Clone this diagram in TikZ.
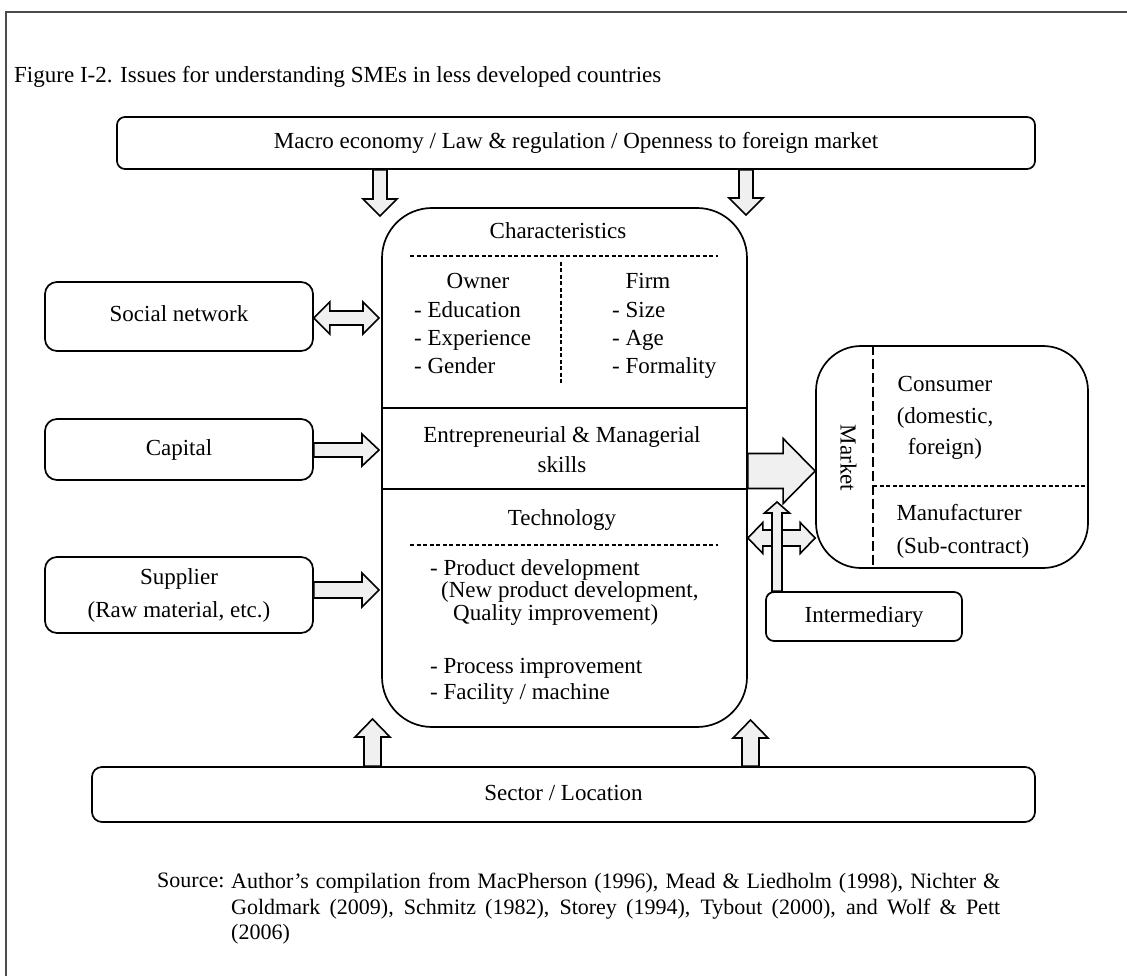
\documentclass[tikz,border=0pt]{standalone}
\usepackage{fontspec}
\setmainfont{Liberation Serif}
\usetikzlibrary{calc}
\definecolor{arrowfill}{gray}{0.94}

\tikzset{
  lbl/.style={inner sep=0pt, text height=16pt, text depth=5pt},
  panel/.style={draw, line width=1.7pt, fill=white, inner sep=0pt, rounded corners=#1},
  sep/.style={dash pattern=on 4pt off 2.5pt, line width=1.4pt},
  fat/.style n args={3}{draw, line width=1.6pt, fill=arrowfill, to path={
      ($(\tikztotarget)!#3!(\tikztostart)$) coordinate (fatB)
      ($(\tikztostart)!#1!90:(\tikztotarget)$) -- ($(fatB)!#1!90:(\tikztotarget)$)
      -- ($(fatB)!#2!90:(\tikztotarget)$) -- (\tikztotarget)
      -- ($(fatB)!#2!-90:(\tikztotarget)$) -- ($(fatB)!#1!-90:(\tikztotarget)$)
      -- ($(\tikztostart)!#1!-90:(\tikztotarget)$) -- cycle}},
  fatboth/.style n args={3}{draw, line width=1.6pt, fill=arrowfill, to path={
      ($(\tikztostart)!#3!(\tikztotarget)$) coordinate (fatA)
      ($(\tikztotarget)!#3!(\tikztostart)$) coordinate (fatB)
      (\tikztostart) -- ($(fatA)!#2!90:(\tikztotarget)$) -- ($(fatA)!#1!90:(\tikztotarget)$)
      -- ($(fatB)!#1!90:(\tikztotarget)$) -- ($(fatB)!#2!90:(\tikztotarget)$)
      -- (\tikztotarget) -- ($(fatB)!#2!-90:(\tikztotarget)$) -- ($(fatB)!#1!-90:(\tikztotarget)$)
      -- ($(fatA)!#1!-90:(\tikztotarget)$) -- ($(fatA)!#2!-90:(\tikztotarget)$) -- cycle}}
}

\begin{document}
\begin{tikzpicture}[x=1pt, y=-1pt, font=\fontsize{23}{28}\selectfont]
  \useasboundingbox (0,0) rectangle (1127,976);
  % frame and title
  \draw[line width=1.5pt, black!70] (6,976) -- (6,12) -- (1127,12);
  \node[lbl, anchor=west] (title) at (14,77) {Figure I-2. Issues for understanding SMEs in less developed countries};

  % outer boxes
  \node[panel=8pt, lbl, minimum width=918pt, minimum height=52pt] (macro) at (576,143) {Macro economy / Law \& regulation / Openness to foreign market};
  \node[panel=10pt, lbl, minimum width=943pt, minimum height=55pt] (sector) at (563.5,794.5) {Sector / Location};
  \node[panel=12pt, lbl, minimum width=268pt, minimum height=69pt] (social) at (179,316.5) {Social network};
  \node[panel=12pt, lbl, minimum width=268pt, minimum height=61pt] (capital) at (179,449.5) {Capital};
  \node[panel=12pt, align=center, minimum width=268pt, minimum height=76pt, font=\fontsize{23}{33}\selectfont] (supplier) at (179,595) {Supplier\\(Raw material, etc.)};
  \node[panel=50pt, minimum width=365pt, minimum height=519pt] (core) at (564.5,467.5) {};
  \node[panel=45pt, minimum width=272pt, minimum height=222pt] (market) at (952,457) {};
  \node[panel=8pt, lbl, minimum width=196pt, minimum height=49pt] (inter) at (864,616.5) {Intermediary};

  % characteristics
  \node[lbl] (chars) at (558,233) {Characteristics};
  \draw[sep] (410,256) -- (718,256);
  \draw[sep] (561,262) -- (561,385);
  \node[lbl] (owner) at (478,283) {Owner};
  \node[lbl] (firm) at (648,283) {Firm};
  \foreach \attr [count=\i] in {Education,Experience,Gender}
    \node[lbl, anchor=west] (own\i) at (414,284+28*\i) {- \attr};
  \foreach \attr [count=\i] in {Size,Age,Formality}
    \node[lbl, anchor=west] (frm\i) at (612,284+28*\i) {- \attr};
  \draw[line width=1.7pt] (core.west |- 0,408) -- (core.east |- 0,408);

  % skills
  \node[align=center, font=\fontsize{23}{30}\selectfont] (skills) at (562,450) {Entrepreneurial \& Managerial\\skills};
  \draw[line width=1.7pt] (core.west |- 0,489) -- (core.east |- 0,489);

  % technology
  \node[lbl] (tech) at (562,520) {Technology};
  \draw[sep] (410,545) -- (718,545);
  \node[lbl, anchor=west] (tech1) at (430,570) {- Product development};
  \node[lbl, anchor=west] (tech2) at (441,592) {(New product development,};
  \node[lbl, anchor=west] (tech3) at (453,615) {Quality improvement)};
  \node[lbl, anchor=west] (tech4) at (430,668) {- Process improvement};
  \node[lbl, anchor=west] (tech5) at (430,694) {- Facility / machine};

  % market
  \node[lbl, rotate=-90] (mkt) at (846,458) {Market};
  \draw[dash pattern=on 10pt off 4pt, line width=1.4pt] (market.north -| 873,0) -- (market.south -| 873,0);
  \draw[sep] (873,486) -- (market.east |- 0,486);
  \node[align=center, font=\fontsize{23}{31.5}\selectfont] (consumer) at (945,418) {Consumer\\(domestic,\\foreign)};
  \node[align=left, anchor=west, font=\fontsize{23}{33}\selectfont] (maker) at (893,531.5) {Manufacturer\\(Sub-contract)};

  % arrow ends
  \coordinate (dnLa) at (macro.south -| 380,0);
  \coordinate (dnLb) at (380,216);
  \coordinate (dnRa) at (macro.south -| 746,0);
  \coordinate (dnRb) at (746,215);
  \coordinate (upLa) at (sector.north -| 372.5,0);
  \coordinate (upLb) at (372.5,719);
  \coordinate (upRa) at (sector.north -| 750.5,0);
  \coordinate (upRb) at (750.5,720);
  \coordinate (socA) at (social.east |- 0,318);
  \coordinate (socB) at (379,318);
  \coordinate (capA) at (capital.east |- 0,450);
  \coordinate (capB) at (379,450);
  \coordinate (supA) at (supplier.east |- 0,590);
  \coordinate (supB) at (379,590);
  \coordinate (mktA) at (core.east |- 0,471);
  \coordinate (mktB) at (market.west |- 0,471);
  \coordinate (intA) at (core.east |- 0,538);
  \coordinate (intB) at (market.west |- 0,538);
  \coordinate (intC) at (inter.north -| 777,0);
  \coordinate (intD) at (777,502);

  % block arrows
  \draw[fat={7pt}{17pt}{17pt}] (dnLa) to (dnLb);
  \draw[fat={7pt}{17pt}{17pt}] (dnRa) to (dnRb);
  \draw[fat={8.5pt}{17.5pt}{18pt}] (upLa) to (upLb);
  \draw[fat={8.5pt}{17.5pt}{18pt}] (upRa) to (upRb);
  \draw[fatboth={7pt}{16pt}{16pt}] (socA) to (socB);
  \draw[fat={7pt}{16pt}{17pt}] (capA) to (capB);
  \draw[fat={8pt}{17pt}{17pt}] (supA) to (supB);
  \draw[fat={17.5pt}{32.5pt}{32pt}] (mktA) to (mktB);
  \draw[fatboth={8pt}{15.5pt}{15pt}] (intA) to (intB);
  \draw[fat={5pt}{12.5pt}{11pt}] (intC) to (intD);

  % source
  \node[lbl, anchor=west, font=\fontsize{22}{25.5}\selectfont] (srclabel) at (157,882) {Source:};
  \node[anchor=north west, inner sep=0pt, text width=769pt, align=justify, font=\fontsize{22}{25.5}\selectfont] (source) at (231,873) {Author's compilation from MacPherson (1996), Mead \& Liedholm (1998), Nichter \&\linebreak Goldmark (2009), Schmitz (1982), Storey (1994), Tybout (2000), and Wolf \& Pett\linebreak (2006)};
\end{tikzpicture}
\end{document}
